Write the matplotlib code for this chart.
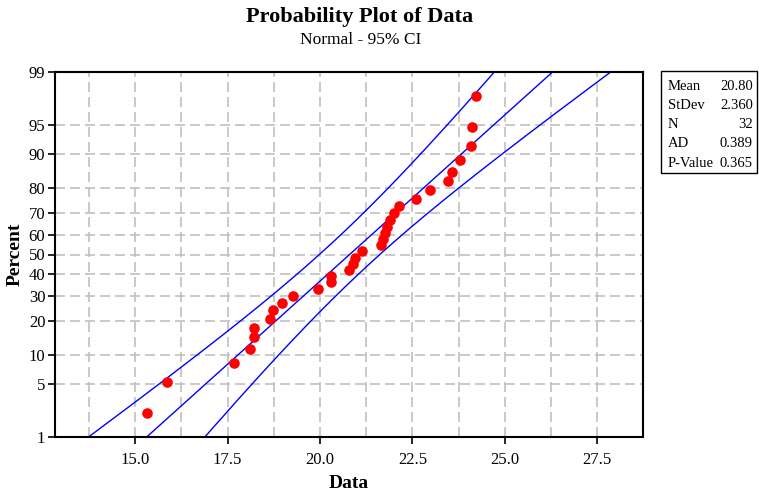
import numpy as np
import matplotlib
matplotlib.use("Agg")
import matplotlib.pyplot as plt
from statistics import NormalDist

# ---- data ----
data = [15.33, 15.86, 17.66, 18.11, 18.22, 18.22, 18.65, 18.72,
        18.98, 19.28, 19.95, 20.30, 20.30, 20.79, 20.90, 20.94,
        21.13, 21.65, 21.71, 21.76, 21.81, 21.88, 22.00, 22.14,
        22.60, 22.97, 23.47, 23.58, 23.80, 24.08, 24.10, 24.22]
percent = [2.16, 5.25, 8.33, 11.42, 14.51, 17.59, 20.68, 23.77,
           26.85, 29.94, 33.02, 36.11, 39.20, 42.28, 45.37, 48.46,
           51.54, 54.63, 57.72, 60.80, 63.89, 66.98, 70.06, 73.15,
           76.23, 79.32, 82.41, 85.49, 88.58, 91.67, 94.75, 97.84]
MEAN = 20.80
STDEV = 2.360
N = 32
AD = 0.389
PVALUE = 0.365
y_ticks = [1, 5, 10, 20, 30, 40, 50, 60, 70, 80, 90, 95, 99]
x_ticks = [15.0, 17.5, 20.0, 22.5, 25.0, 27.5]

nd = NormalDist()
def z(p):
    return np.array([nd.inv_cdf(v / 100.0) for v in np.atleast_1d(p)])

plt.rcParams['font.family'] = ['Liberation Serif', 'DejaVu Serif']

fig = plt.figure(figsize=(7.59, 4.92), dpi=100)
ax = fig.add_axes([55/759, 1-437/492, (642.7-55)/759, (437-72)/492])

# grid
xmin, xmax = 12.83, 28.73
for gx in np.arange(13.75, 28.0, 1.25):
    ax.axvline(gx, color='#c0c0c0', lw=1.2, ls=(0, (6, 3)), zorder=0)
for t in y_ticks[1:-1]:
    ax.axhline(z(t)[0], color='#c0c0c0', lw=1.2, ls=(0, (6, 3)), zorder=0)

# fitted line and 95% CI
pp = np.linspace(0.3, 99.7, 300)
zz = z(pp)
xfit = MEAN + zz * STDEV
half = 1.959964 * STDEV * np.sqrt(1.0 / N + zz**2 / (2.0 * N))
ax.plot(xfit, zz, color='#0000ff', lw=1.0, zorder=2)
ax.plot(xfit - half, zz, color='#0000ff', lw=1.0, zorder=2)
ax.plot(xfit + half, zz, color='#0000ff', lw=1.0, zorder=2)

ax.scatter(data, z(percent), s=58, color='#ff0000', zorder=3, linewidths=0)

ax.set_xlim(xmin, xmax)
ax.set_ylim(z(1)[0], z(99)[0])
ax.set_xticks(x_ticks)
ax.set_xticklabels([f"{v:.1f}" for v in x_ticks])
ax.set_yticks(z(y_ticks))
ax.set_yticklabels([str(t) for t in y_ticks])
ax.tick_params(direction='out', length=5, width=1.2, labelsize=12, colors='black')
ax.tick_params(axis='x', pad=6)
ax.tick_params(axis='y', pad=2)
for s in ax.spines.values():
    s.set_linewidth(1.5)

fig.text(349/759, 1-483/492, "Data", ha='center', va='center',
         fontsize=14, fontweight='bold')
fig.text(15/759, 1-254/492, "Percent", ha='center', va='center', rotation=90,
         fontsize=14, fontweight='bold')

fig.text(360/759, 1-17/492, "Probability Plot of Data", ha='center', va='center',
         fontsize=16, fontweight='bold')
fig.text(361/759, 1-40/492, "Normal - 95% CI", ha='center', va='center', fontsize=12.5)

# stats box
box = plt.Rectangle((661/759, 1-173/492), (757-661)/759, (173-71)/492,
                    transform=fig.transFigure, fill=False, lw=1.0, ec='black')
fig.add_artist(box)
rows = [("Mean", f"{MEAN:.2f}"), ("StDev", f"{STDEV:.3f}"), ("N", f"{N}"),
        ("AD", f"{AD:.3f}"), ("P-Value", f"{PVALUE:.3f}")]
for i, (k, v) in enumerate(rows):
    yy = 1 - (86 + i * 19.3) / 492
    fig.text(668/759, yy, k, ha='left', va='center', fontsize=10.5)
    fig.text(753/759, yy, v, ha='right', va='center', fontsize=10.5)

fig.savefig("out.png", dpi=100)
